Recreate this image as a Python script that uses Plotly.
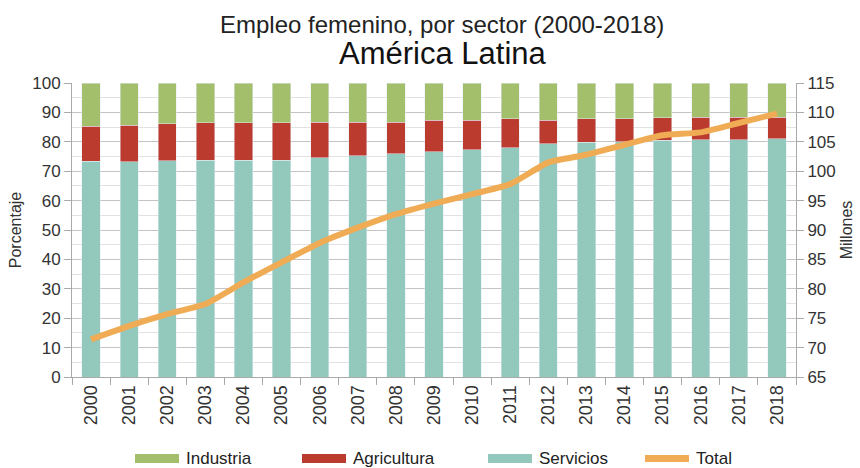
import plotly.graph_objects as go

years = [str(y) for y in range(2000, 2019)]
servicios = [73.4, 73.3, 73.6, 73.8, 73.8, 73.8, 74.5, 75.3, 75.9, 76.7, 77.3, 78.0, 79.3, 79.9, 80.1, 80.5, 80.7, 80.7, 81.0]
agric_top = [85.3, 85.6, 86.1, 86.4, 86.4, 86.4, 86.7, 86.6, 86.7, 87.3, 87.3, 87.8, 87.3, 87.8, 87.8, 88.1, 88.4, 88.3, 88.4]
agricultura = [round(a - s, 1) for a, s in zip(agric_top, servicios)]
industria = [round(100 - a, 1) for a in agric_top]
total = [71.4, 73.7, 75.7, 77.4, 81.1, 84.5, 87.8, 90.4, 92.7, 94.5, 96.1, 97.8, 101.5, 102.8, 104.5, 106.1, 106.6, 108.2, 109.8]
legend_names = ["Industria", "Agricultura", "Servicios", "Total"]

c_ind = "#a4bf6c"
c_agr = "#bb3b2f"
c_ser = "#93c8bd"
c_tot = "#f0ac55"
legend_colors = [c_ind, c_agr, c_ser, c_tot]

FONT = "Liberation Sans, Arial, sans-serif"

W, H = 860, 468
L, R, T, B = 72, 64, 83, 91
PW, PH = W - L - R, H - T - B

def px(xpix):
    return (xpix - L) / PW

def py(ypix):
    return (H - B - ypix) / PH

fig = go.Figure()
fig.add_trace(go.Bar(x=years, y=servicios, marker_color=c_ser, name="Servicios"))
fig.add_trace(go.Bar(x=years, y=agricultura, marker_color=c_agr, name="Agricultura"))
fig.add_trace(go.Bar(x=years, y=industria, marker_color=c_ind, name="Industria"))
fig.add_trace(go.Scatter(x=years, y=total, yaxis="y2", mode="lines", name="Total",
                         line=dict(color=c_tot, width=6, shape="spline", smoothing=0.5)))

# manual legend with wide swatches
shapes = []
annotations = []
sw_x = [135, 302, 488, 645]
for i, (name, col) in enumerate(zip(legend_names, legend_colors)):
    x0 = sw_x[i]
    h = 9 if name != "Total" else 7
    shapes.append(dict(type="rect", xref="paper", yref="paper",
                       x0=px(x0), x1=px(x0 + 44), y0=py(458.5 + h / 2), y1=py(458.5 - h / 2),
                       fillcolor=col, line=dict(width=0)))
    annotations.append(dict(text=name, x=px(x0 + 49), y=py(458.5), xref="paper", yref="paper",
                            xanchor="left", yanchor="middle", showarrow=False,
                            font=dict(family=FONT, size=17, color="#222222")))

annotations.append(dict(text="Empleo femenino, por sector (2000-2018)", x=px(442), y=py(24),
                        xref="paper", yref="paper", showarrow=False, yanchor="middle",
                        font=dict(family=FONT, size=24, color="#222222")))
annotations.append(dict(text="América Latina", x=px(443), y=py(53), xref="paper", yref="paper",
                        showarrow=False, yanchor="middle",
                        font=dict(family=FONT, size=31, color="#111111")))

fig.update_layout(
    width=W, height=H,
    margin=dict(l=L, r=R, t=T, b=B, autoexpand=False),
    paper_bgcolor="white", plot_bgcolor="white",
    barmode="stack", bargap=0.52,
    font=dict(family=FONT, size=15, color="#333333"),
    showlegend=False,
    xaxis=dict(type="category", ticks="outside", tickson="boundaries", ticklen=7,
               tickcolor="#aaaaaa", tickangle=-90, showline=True, linecolor="#aaaaaa",
               tickfont=dict(size=18, color="#333333"), showgrid=False, automargin=False),
    yaxis=dict(range=[0, 100], dtick=10, ticks="outside", ticklen=7, tickcolor="#aaaaaa",
               showline=True, linecolor="#aaaaaa", gridcolor="#c4c4c4", gridwidth=1,
               minor=dict(dtick=5, showgrid=True, gridcolor="#e2e2e2", ticks=""),
               title=dict(text="Porcentaje", font=dict(size=16, color="#333333"), standoff=6),
               tickfont=dict(size=17, color="#333333"), zeroline=False, automargin=False),
    yaxis2=dict(range=[65, 115], dtick=5, overlaying="y", side="right", ticks="outside",
                ticklen=7, tickcolor="#aaaaaa", showline=True, linecolor="#aaaaaa",
                showgrid=False, zeroline=False, automargin=False,
                title=dict(text="Millones", font=dict(size=16, color="#333333"), standoff=6),
                tickfont=dict(size=17, color="#333333")),
    shapes=shapes,
    annotations=annotations,
)

fig.write_html("out.html", config={"displayModeBar": False},
               post_script="document.body.style.margin='0';document.body.style.overflow='hidden';")
